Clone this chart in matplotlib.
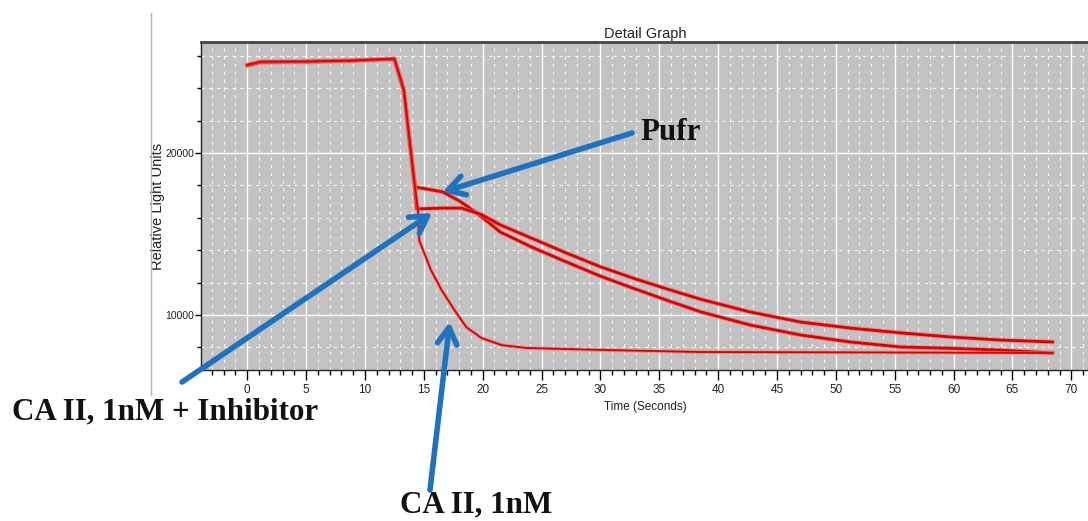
import matplotlib
matplotlib.use("Agg")
import matplotlib.pyplot as plt
from matplotlib.lines import Line2D
from matplotlib.ticker import MultipleLocator
import matplotlib.patheffects as pe

# ---- data ----
t_pufr = [0, 0.7, 1.1, 5, 8.8, 12.2, 12.5, 13.3, 14.2, 14.3, 16.6, 18.0, 19.5, 21.5,
          24.3, 27.2, 30.0, 32.8, 35.7, 38.5, 42.7, 47.0, 51.2, 55.5, 59.7, 63.9, 68.4]
y_pufr = [25430, 25550, 25620, 25620, 25680, 25800, 25800, 23900, 18300, 17900, 17600,
          17050, 16300, 15120, 14150, 13250, 12400, 11650, 10900, 10200, 9390, 8770,
          8340, 8030, 7950, 7840, 7660]

t_inhib = [0, 0.7, 1.1, 5, 8.8, 12.2, 12.5, 13.3, 14.2, 14.4, 16.5, 18.2, 19.9, 21.5,
           24.3, 27.2, 30.0, 32.8, 35.7, 38.5, 42.7, 47.0, 51.2, 55.5, 59.7, 63.9, 68.4]
y_inhib = [25400, 25520, 25600, 25660, 25720, 25780, 25780, 23800, 18000, 16550, 16600,
           16600, 16200, 15560, 14700, 13800, 12980, 12270, 11600, 10980, 10190, 9570,
           9200, 8900, 8650, 8460, 8340]

t_ca = [0, 0.7, 1.1, 5, 8.8, 12.2, 12.5, 13.3, 14.2, 14.5, 14.6, 15.6, 16.5, 17.6,
        18.6, 19.9, 21.6, 23.7, 30.0, 38.5, 50, 60, 68.4]
y_ca = [25450, 25560, 25640, 25640, 25700, 25820, 25820, 23950, 18200, 16500, 14630,
        12780, 11550, 10310, 9260, 8580, 8150, 7970, 7850, 7720, 7700, 7680, 7660]

title = "Detail Graph"
xlabel = "Time (Seconds)"
ylabel = "Relative Light Units"
label_pufr = "Pufr"
label_inhib = "CA II, 1nM + Inhibitor"
label_ca = "CA II, 1nM"

# ---- figure ----
W, H = 1088, 521
fig = plt.figure(figsize=(W / 100, H / 100), dpi=100)
fig.patch.set_facecolor("white")

ax_left, ax_right, ax_top, ax_bot = 201, 1089, 42, 370
ax = fig.add_axes([ax_left / W, 1 - ax_bot / H, (ax_right - ax_left) / W, (ax_bot - ax_top) / H])
ax.set_facecolor("#c2c2c2")
ax.set_xlim(-3.93, 71.5)
ax.set_ylim(6610, 26850)

narrow = ["Liberation Sans Narrow", "Liberation Sans", "DejaVu Sans"]

ax.xaxis.set_major_locator(MultipleLocator(5))
ax.xaxis.set_minor_locator(MultipleLocator(1))
ax.yaxis.set_major_locator(MultipleLocator(10000))
ax.yaxis.set_minor_locator(MultipleLocator(2000))

ax.grid(which="major", color="white", lw=1.0, ls="-", zorder=0)
ax.grid(which="minor", color="white", lw=0.8, ls=(0, (3, 4)), alpha=0.85, zorder=0)
ax.set_axisbelow(True)

ax.tick_params(axis="x", which="major", length=7, width=1, pad=3, labelsize=8.5)
ax.tick_params(axis="x", which="minor", length=3.5, width=1)
ax.tick_params(axis="y", which="major", length=4, width=1, pad=1, labelsize=7.5)
ax.tick_params(axis="y", which="minor", length=3, width=1)
for lab in ax.get_xticklabels() + ax.get_yticklabels():
    lab.set_family(narrow)
    lab.set_color("#222222")

for s in ["left", "bottom"]:
    ax.spines[s].set_color("#222222")
    ax.spines[s].set_linewidth(1.0)
ax.spines["top"].set_color("#444444")
ax.spines["top"].set_linewidth(2.0)
ax.spines["right"].set_visible(False)

ax.set_title(title, fontsize=10.5, family=narrow, color="#222222", pad=3)
ax.set_xlabel(xlabel, fontsize=8.5, family=narrow, color="#222222", labelpad=4)
ax.set_ylabel(ylabel, fontsize=10.5, family=["Liberation Sans", "DejaVu Sans"], color="#222222")
ax.yaxis.set_label_coords((165 - ax_left) / (ax_right - ax_left), 0.5)

red = "#dc0000"
halo = "#f07070"
for t, y, lw in [(t_pufr, y_pufr, 2.0), (t_inhib, y_inhib, 2.0), (t_ca, y_ca, 1.3)]:
    ax.plot(t, y, color=red, lw=lw, zorder=3, solid_joinstyle="round",
            path_effects=[pe.Stroke(linewidth=lw + 1.4, foreground=halo, alpha=0.6), pe.Normal()])

# left gray rule
fig.add_artist(Line2D([151 / W, 151 / W], [1 - 13 / H, 1 - 395 / H], color="#b5b5b5", lw=1))

# ---- annotations ----
blue = "#1f72c0"
arrow_kw = dict(arrowstyle="->,head_length=0.85,head_width=0.5", color=blue, lw=4,
                shrinkA=0, shrinkB=0, mutation_scale=14)
ax.annotate("", xy=(16.6, 17590), xycoords="data", xytext=(632, H - 133),
            textcoords="figure pixels", arrowprops=arrow_kw, annotation_clip=False, zorder=5)
ax.annotate("", xy=(15.7, 16300), xycoords="data", xytext=(182, H - 382),
            textcoords="figure pixels", arrowprops=arrow_kw, annotation_clip=False, zorder=5)
ax.annotate("", xy=(17.2, 9570), xycoords="data", xytext=(430, H - 490),
            textcoords="figure pixels", arrowprops=arrow_kw, annotation_clip=False, zorder=5)

serif = ["Liberation Serif", "DejaVu Serif"]
fs = 22.3
fig.text(640 / W, 1 - 133 / H, label_pufr, fontsize=fs, fontweight="bold", family=serif,
         ha="left", va="center", color="#111111")
fig.text(12 / W, 1 - 412 / H, label_inhib, fontsize=fs, fontweight="bold", family=serif,
         ha="left", va="center", color="#111111")
fig.text(400 / W, 1 - 505 / H, label_ca, fontsize=fs, fontweight="bold", family=serif,
         ha="left", va="center", color="#111111")

fig.savefig("out.png", dpi=100)
